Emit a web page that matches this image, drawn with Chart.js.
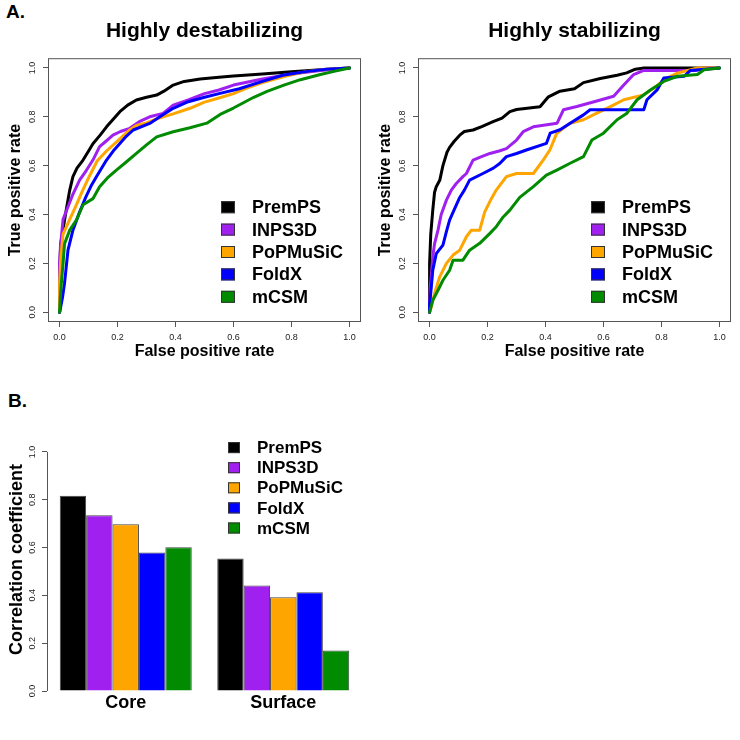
<!DOCTYPE html>
<html>
<head>
<meta charset="utf-8">
<script src="https://cdn.jsdelivr.net/npm/chart.js@4.4.1/dist/chart.umd.min.js"></script>
<style>
  html, body { margin: 0; padding: 0; background: #fff; }
  #page { position: relative; width: 740px; height: 740px; overflow: hidden; font-family: Arial, "Liberation Sans", sans-serif; }
  canvas { position: absolute; }
  .tag { position: absolute; font-weight: bold; font-size: 19px; line-height: 19px; color: #000; }
</style>
</head>
<body>
<div id="page">
  <div class="tag" style="left:6px;top:2px">A.</div>
  <canvas id="rocDestab" width="370" height="362" style="left:0;top:0"></canvas>
  <canvas id="rocStab" width="370" height="362" style="left:370px;top:0"></canvas>
  <div class="tag" style="left:8px;top:391px">B.</div>
  <canvas id="corrBars" width="370" height="360" style="left:0;top:380px"></canvas>
</div>
<script>
const methods = ['PremPS', 'INPS3D', 'PoPMuSiC', 'FoldX', 'mCSM'];
const methodColors = ['#000000', '#A020F0', '#FFA500', '#0000FF', '#008B00'];
const rateTicks = [0, 0.2, 0.4, 0.6, 0.8, 1.0];

// ROC curves, [false positive rate, true positive rate]
const destabPremPS = [[0,0],[0,0.17],[0.004,0.28],[0.012,0.34],[0.023,0.42],[0.035,0.5],[0.046,0.555],[0.06,0.59],[0.081,0.623],[0.1,0.66],[0.115,0.69],[0.14,0.725],[0.162,0.759],[0.185,0.79],[0.208,0.821],[0.235,0.848],[0.265,0.869],[0.3,0.88],[0.335,0.889],[0.36,0.905],[0.392,0.93],[0.43,0.945],[0.485,0.955],[0.55,0.962],[0.6,0.967],[0.7,0.975],[0.8,0.985],[0.9,0.993],[1,1]];
const destabINPS3D = [[0,0],[0,0.2],[0.003,0.27],[0.012,0.38],[0.029,0.432],[0.045,0.48],[0.069,0.541],[0.092,0.58],[0.115,0.623],[0.138,0.678],[0.16,0.7],[0.184,0.725],[0.21,0.74],[0.242,0.753],[0.275,0.78],[0.311,0.8],[0.357,0.814],[0.392,0.848],[0.444,0.869],[0.5,0.895],[0.55,0.91],[0.6,0.93],[0.7,0.955],[0.8,0.975],[0.9,0.99],[1,1]];
const destabPoPMuSiC = [[0,0],[0,0.12],[0.004,0.22],[0.012,0.32],[0.035,0.38],[0.058,0.44],[0.08,0.5],[0.104,0.56],[0.13,0.62],[0.162,0.66],[0.208,0.71],[0.24,0.745],[0.265,0.765],[0.3,0.775],[0.335,0.792],[0.392,0.812],[0.45,0.835],[0.5,0.86],[0.55,0.877],[0.6,0.895],[0.65,0.92],[0.7,0.94],[0.774,0.965],[0.85,0.985],[0.92,0.995],[1,1]];
const destabFoldX = [[0,0],[0.002,0.01],[0.01,0.06],[0.017,0.118],[0.029,0.254],[0.046,0.336],[0.069,0.41],[0.09,0.47],[0.11,0.52],[0.127,0.555],[0.162,0.623],[0.185,0.66],[0.208,0.691],[0.23,0.72],[0.254,0.746],[0.311,0.773],[0.346,0.8],[0.392,0.835],[0.444,0.862],[0.5,0.88],[0.55,0.895],[0.62,0.915],[0.7,0.945],[0.77,0.97],[0.85,0.985],[0.92,0.995],[1,1]];
const destabMCSM = [[0,0],[0.002,0.05],[0.006,0.118],[0.012,0.2],[0.017,0.28],[0.035,0.336],[0.058,0.377],[0.081,0.44],[0.115,0.465],[0.138,0.514],[0.165,0.55],[0.196,0.582],[0.23,0.615],[0.265,0.65],[0.3,0.685],[0.335,0.718],[0.392,0.739],[0.45,0.755],[0.508,0.774],[0.554,0.81],[0.6,0.836],[0.67,0.88],[0.716,0.904],[0.774,0.93],[0.831,0.952],[0.9,0.973],[0.947,0.986],[1,1]];

const stabPremPS = [[0,0],[0,0.2],[0.004,0.32],[0.011,0.418],[0.017,0.49],[0.023,0.514],[0.035,0.54],[0.046,0.6],[0.06,0.655],[0.069,0.675],[0.085,0.7],[0.104,0.725],[0.12,0.74],[0.15,0.746],[0.18,0.76],[0.219,0.78],[0.25,0.795],[0.277,0.821],[0.3,0.83],[0.381,0.841],[0.41,0.882],[0.45,0.905],[0.5,0.915],[0.531,0.94],[0.589,0.957],[0.647,0.97],[0.68,0.98],[0.71,0.995],[0.74,1],[1,1]];
const stabINPS3D = [[0,0],[0.002,0.1],[0.006,0.15],[0.011,0.227],[0.017,0.28],[0.029,0.336],[0.04,0.4],[0.058,0.459],[0.075,0.5],[0.092,0.527],[0.115,0.555],[0.127,0.568],[0.15,0.623],[0.175,0.635],[0.208,0.65],[0.24,0.66],[0.265,0.67],[0.3,0.705],[0.323,0.739],[0.358,0.759],[0.44,0.774],[0.462,0.829],[0.508,0.842],[0.577,0.865],[0.635,0.884],[0.67,0.93],[0.704,0.973],[0.739,0.99],[0.92,0.99],[0.95,1],[1,1]];
const stabPoPMuSiC = [[0,0],[0.006,0.022],[0.017,0.077],[0.035,0.145],[0.058,0.2],[0.081,0.234],[0.104,0.254],[0.127,0.309],[0.144,0.336],[0.173,0.336],[0.19,0.41],[0.213,0.465],[0.23,0.5],[0.265,0.555],[0.3,0.568],[0.358,0.568],[0.392,0.623],[0.415,0.664],[0.439,0.733],[0.485,0.774],[0.531,0.788],[0.577,0.815],[0.624,0.842],[0.67,0.87],[0.739,0.89],[0.785,0.927],[0.808,0.952],[0.855,0.979],[0.924,1],[1,1]];
const stabFoldX = [[0,0],[0,0.03],[0.006,0.104],[0.011,0.172],[0.023,0.24],[0.046,0.275],[0.058,0.33],[0.069,0.377],[0.085,0.42],[0.104,0.47],[0.12,0.5],[0.138,0.541],[0.184,0.568],[0.22,0.59],[0.242,0.609],[0.265,0.637],[0.3,0.65],[0.334,0.664],[0.403,0.691],[0.416,0.733],[0.45,0.747],[0.485,0.774],[0.531,0.808],[0.554,0.829],[0.739,0.829],[0.75,0.87],[0.785,0.91],[0.808,0.959],[0.878,0.966],[0.9,0.99],[0.95,0.995],[1,1]];
const stabMCSM = [[0,0],[0.011,0.049],[0.029,0.09],[0.046,0.131],[0.069,0.172],[0.081,0.213],[0.115,0.213],[0.138,0.254],[0.173,0.282],[0.208,0.323],[0.23,0.35],[0.254,0.39],[0.277,0.418],[0.311,0.47],[0.358,0.514],[0.403,0.561],[0.439,0.582],[0.485,0.61],[0.531,0.637],[0.56,0.705],[0.6,0.733],[0.647,0.788],[0.681,0.815],[0.716,0.87],[0.762,0.91],[0.808,0.945],[0.855,0.966],[0.924,0.973],[0.947,0.993],[1,1]];

// correlation coefficients, panel B
const groups = ['Core', 'Surface'];
const coreCorr = [0.817, 0.735, 0.697, 0.579, 0.601];
const surfaceCorr = [0.554, 0.441, 0.392, 0.413, 0.169];

const FONT = 'Arial, "Liberation Sans", sans-serif';
Chart.defaults.font.family = FONT;
Chart.defaults.color = '#000';
Chart.defaults.animation = false;

// legend drawn inside the plot, R style (filled squares with a dark edge)
const boxLegend = {
  id: 'boxLegend',
  afterDraw(chart, args, opts) {
    const { ctx, chartArea } = chart;
    ctx.save();
    ctx.font = `bold ${opts.fontSize}px ${FONT}`;
    ctx.textBaseline = 'middle';
    chart.data.datasets.forEach((ds, i) => {
      const bx = chartArea.left + opts.left;
      const cy = chartArea.top + opts.top + i * opts.rowGap;
      ctx.fillStyle = ds.backgroundColor;
      ctx.fillRect(bx, cy - opts.boxH / 2, opts.boxW, opts.boxH);
      ctx.strokeStyle = '#333';
      ctx.lineWidth = 1;
      ctx.strokeRect(bx + 0.5, cy - opts.boxH / 2 + 0.5, opts.boxW - 1, opts.boxH - 1);
      ctx.fillStyle = '#000';
      ctx.fillText(ds.label, bx + opts.textGap, cy + 1);
    });
    ctx.restore();
  }
};

// box around the plot region, or just the y axis line between 0 and 1
const frame = {
  id: 'frame',
  afterDraw(chart, args, opts) {
    const { ctx, chartArea, scales } = chart;
    ctx.save();
    ctx.strokeStyle = '#555';
    ctx.lineWidth = 1;
    if (opts.mode === 'box') {
      ctx.strokeRect(chartArea.left + 0.5, chartArea.top + 0.5, chartArea.width - 1, chartArea.height - 1);
    } else {
      const x = Math.round(chartArea.left) + 0.5;
      ctx.beginPath();
      ctx.moveTo(x, scales.y.getPixelForValue(0));
      ctx.lineTo(x, scales.y.getPixelForValue(1));
      ctx.stroke();
    }
    ctx.restore();
  }
};

function rateAxis(isX, title, size, tickPad, titlePad) {
  return {
    type: 'linear',
    min: -0.04,
    max: 1.04,
    afterBuildTicks: s => { s.ticks = rateTicks.map(v => ({ value: v })); },
    afterFit: s => { if (isX) s.height = size; else s.width = size; },
    grid: { display: true, drawOnChartArea: false, drawTicks: true, tickLength: 5, color: '#555' },
    border: { display: false },
    ticks: isX
      ? { font: { size: 9 }, color: '#222', padding: tickPad, maxRotation: 0, callback: v => v.toFixed(1) }
      : { font: { size: 9 }, color: '#222', padding: tickPad, minRotation: 90, maxRotation: 90, crossAlign: 'center', callback: v => v.toFixed(1) },
    title: { display: true, text: title, color: '#000', font: { size: 16, weight: 'bold' }, padding: titlePad }
  };
}

function drawRoc(canvasId, title, curves) {
  new Chart(document.getElementById(canvasId), {
    type: 'scatter',
    data: {
      datasets: methods.map((name, i) => ({
        label: name,
        data: curves[i].map(([x, y]) => ({ x, y })),
        showLine: true,
        borderColor: methodColors[i],
        backgroundColor: methodColors[i],
        borderWidth: 3,
        borderJoinStyle: 'round',
        borderCapStyle: 'round',
        pointRadius: 0,
        order: -i
      }))
    },
    options: {
      responsive: false,
      devicePixelRatio: 1,
      layout: { padding: { left: 0, right: 9, top: 0, bottom: 0 } },
      plugins: {
        legend: { display: false },
        tooltip: { enabled: false },
        title: { display: true, text: title, fullSize: false, color: '#000', font: { size: 21, weight: 'bold' }, padding: { top: 19, bottom: 14 } },
        boxLegend: { left: 173, top: 149, rowGap: 22.4, boxW: 14, boxH: 12, textGap: 31, fontSize: 18 },
        frame: { mode: 'box' }
      },
      scales: {
        x: rateAxis(true, 'False positive rate', 40, 5, { top: 0, bottom: 1 }),
        y: rateAxis(false, 'True positive rate', 48, 4, { top: 6, bottom: 0 })
      }
    },
    plugins: [boxLegend, frame]
  });
}

drawRoc('rocDestab', 'Highly destabilizing', [destabPremPS, destabINPS3D, destabPoPMuSiC, destabFoldX, destabMCSM]);
drawRoc('rocStab', 'Highly stabilizing', [stabPremPS, stabINPS3D, stabPoPMuSiC, stabFoldX, stabMCSM]);

new Chart(document.getElementById('corrBars'), {
  type: 'bar',
  data: {
    labels: groups,
    datasets: methods.map((name, i) => ({
      label: name,
      data: [coreCorr[i], surfaceCorr[i]],
      backgroundColor: methodColors[i],
      borderColor: '#444',
      borderWidth: 1,
      categoryPercentage: 0.838,
      barPercentage: 1.0
    }))
  },
  options: {
    responsive: false,
    devicePixelRatio: 1,
    layout: { padding: { left: 0, right: 8, top: 48, bottom: 0 } },
    plugins: {
      legend: { display: false },
      tooltip: { enabled: false },
      boxLegend: { left: 181, top: 19.6, rowGap: 20.1, boxW: 12, boxH: 11, textGap: 29, fontSize: 17 },
      frame: { mode: 'yline' }
    },
    scales: {
      x: {
        afterFit: s => { s.height = 49; },
        grid: { display: false, drawTicks: false },
        border: { display: false },
        ticks: { font: { size: 18, weight: 'bold' }, color: '#000', padding: 1 }
      },
      y: {
        min: 0,
        max: 1.1,
        afterBuildTicks: s => { s.ticks = rateTicks.map(v => ({ value: v })); },
        afterFit: s => { s.width = 47; },
        grid: { display: true, drawOnChartArea: false, drawTicks: true, tickLength: 5, color: '#555' },
        border: { display: false },
        ticks: { font: { size: 9 }, color: '#222', padding: 3, minRotation: 90, maxRotation: 90, crossAlign: 'center', callback: v => v.toFixed(1) },
        title: { display: true, text: 'Correlation coefficient', color: '#000', font: { size: 18, weight: 'bold' }, padding: { top: 6, bottom: 0 } }
      }
    }
  },
  plugins: [boxLegend, frame]
});
</script>
</body>
</html>
